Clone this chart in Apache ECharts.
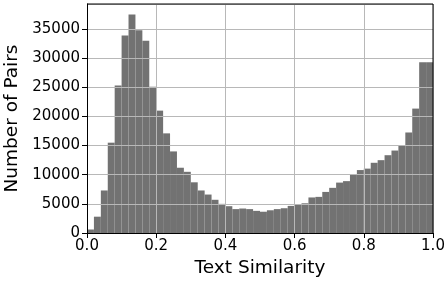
<!DOCTYPE html>
<html>
<head>
<meta charset="utf-8">
<script src="https://cdn.jsdelivr.net/npm/echarts@6/dist/echarts.min.js"></script>
<style>
    html, body { margin: 0; padding: 0; background: #fff; }
    #myCharts { width: 446px; height: 286px; }
</style>
</head>
<body>
<div id="myCharts"></div>
<script>
// histogram: 50 bins of width 0.02 over [0, 1]
var binWidth = 0.02
var pairCounts = [
    600, 2800, 7300, 15500, 25300, 33900, 37500, 34800, 33000, 25100,
    21000, 17100, 14000, 11200, 10500, 8700, 7300, 6600, 5700, 5000,
    4600, 4100, 4200, 4100, 3800, 3650, 3900, 4100, 4250, 4650,
    4950, 5100, 6100, 6200, 7050, 7750, 8650, 8900, 10100, 10800,
    11050, 12050, 12500, 13350, 14150, 15050, 17250, 21350, 29300, 29300
]
var xTicks = [0, 0.2, 0.4, 0.6, 0.8, 1.0]
var yTicks = [0, 5000, 10000, 15000, 20000, 25000, 30000, 35000]

var bins = pairCounts.map(function (c, i) {
    return [i * binWidth, (i + 1) * binWidth, c]
})

var font = 'DejaVu Sans'
var myChart = echarts.init(document.getElementById('myCharts'))
myChart.setOption({
    backgroundColor: '#fff',
    animation: false,
    grid: { left: 87, right: 13, top: 4, bottom: 53, containLabel: false, outerBoundsMode: 'none' },
    xAxis: {
        type: 'value',
        min: 0,
        max: 1,
        interval: 0.2,
        z: 5,
        name: 'Text Similarity',
        nameLocation: 'middle',
        nameGap: 25,
        nameTextStyle: { fontFamily: font, fontSize: 18.5, color: '#000', verticalAlign: 'top' },
        axisLine: { show: true, onZero: false, lineStyle: { color: '#000', width: 1 } },
        axisTick: { show: true, inside: false, length: 5, lineStyle: { color: '#000' } },
        axisLabel: {
            margin: 6,
            fontFamily: font,
            fontSize: 15,
            color: '#000',
            formatter: function (v) { return v.toFixed(1) }
        },
        splitLine: { show: true, lineStyle: { color: '#b8b8b8', width: 1 } }
    },
    yAxis: {
        type: 'value',
        min: 0,
        max: 39300,
        interval: 5000,
        z: 5,
        name: 'Number of Pairs',
        nameLocation: 'middle',
        nameGap: 61,
        nameTextStyle: { fontFamily: font, fontSize: 18.5, color: '#000' },
        axisLine: { show: true, lineStyle: { color: '#000', width: 1 } },
        axisTick: { show: true, inside: false, length: 5, lineStyle: { color: '#000' } },
        axisLabel: {
            margin: 7,
            showMaxLabel: false,
            fontFamily: font,
            fontSize: 15,
            color: '#000',
            formatter: function (v) { return yTicks.indexOf(v) >= 0 ? String(v) : '' }
        },
        splitLine: { show: true, lineStyle: { color: '#b8b8b8', width: 1 } }
    },
    series: [{
        type: 'custom',
        z: 1,
        data: bins,
        renderItem: function (params, api) {
            var p0 = api.coord([api.value(0), api.value(2)])
            var p1 = api.coord([api.value(1), 0])
            return {
                type: 'rect',
                shape: { x: p0[0], y: p0[1], width: p1[0] - p0[0], height: p1[1] - p0[1] },
                style: { fill: '#727272', stroke: null }
            }
        }
    }]
})

// top and right spines
var gx0 = myChart.convertToPixel({ gridIndex: 0 }, [0, 39300])
var gx1 = myChart.convertToPixel({ gridIndex: 0 }, [1, 0])
myChart.setOption({
    graphic: [{
        type: 'polyline',
        z: 10,
        shape: { points: [[gx0[0], gx0[1]], [gx1[0], gx0[1]], [gx1[0], gx1[1]]] },
        style: { stroke: '#000', lineWidth: 1, fill: null }
    }]
})
</script>
</body>
</html>
